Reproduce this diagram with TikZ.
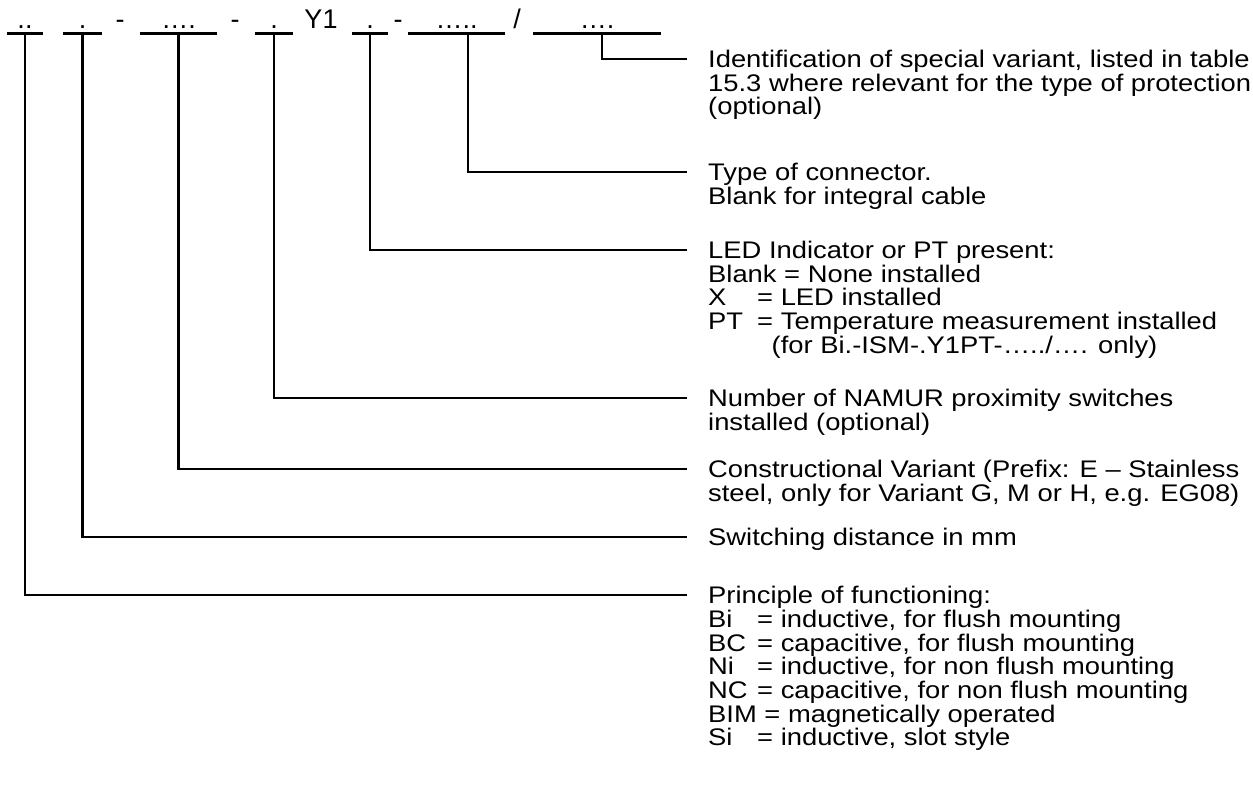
\documentclass[tikz,border=0pt]{standalone}
\usepackage{fontspec}
\setmainfont{Liberation Sans}
\newfontfamily\descfont{Liberation Sans}[FakeStretch=1.14]
\usetikzlibrary{positioning}
\setlength{\lineskiplimit}{-20pt}

\begin{document}
\begin{tikzpicture}[x=1pt, y=-1pt,
    field/.style={anchor=base, inner sep=0pt, font=\fontsize{27}{24}\selectfont},
    desc/.style={anchor=north west, inner sep=0pt, align=left, yshift=9pt,
      font=\descfont\fontsize{24}{23.7}\selectfont},
    codebar/.style={line width=2.6pt},
    leader/.style={line width=2.6pt}]
  \useasboundingbox (0,0) rectangle (1253,788);
  % the code fields along the top
  \node [field, minimum width=36pt] (f1) at (25,28.5) {..};
  \node [field, minimum width=39pt] (f2) at (82.5,28.5) {.};
  \node [field] (s1) at (120,28.5) {-};
  \node [field, minimum width=77pt] (f3) at (178.5,28.5) {….};
  \node [field] (s2) at (235,28.5) {-};
  \node [field, minimum width=38pt] (f4) at (274,28.5) {.};
  \node [field] (s3) at (321,28.5) {Y1};
  \node [field, minimum width=36pt] (f5) at (370,28.5) {.};
  \node [field] (s4) at (398,28.5) {-};
  \node [field, minimum width=97pt] (f6) at (456.5,28.5) {…..};
  \node [field] (s5) at (517,28.5) {/};
  \node [field, minimum width=128pt] (f7) at (597,28.5) {….};
  \foreach \f in {f1,f2,f3,f4,f5,f6,f7}
    \draw [codebar] ([yshift=-5pt]\f.base west) -- ([yshift=-5pt]\f.base east);

  % leader ends
  \coordinate (e7) at (687,59);
  \coordinate (e6) at (687,172);
  \coordinate (e5) at (687,250);
  \coordinate (e4) at (687,398);
  \coordinate (e3) at (687,469);
  \coordinate (e2) at (687,537);
  \coordinate (e1) at (687,595);

  \draw [leader] ([xshift=5pt,yshift=-5pt]f7.base) |- (e7);
  \draw [leader] ([xshift=11.5pt,yshift=-5pt]f6.base) |- (e6);
  \draw [leader] ([yshift=-5pt]f5.base) |- (e5);
  \draw [leader] ([yshift=-5pt]f4.base) |- (e4);
  \draw [leader] ([yshift=-5pt]f3.base) |- (e3);
  \draw [leader] ([yshift=-5pt]f2.base) |- (e2);
  \draw [leader] ([yshift=-5pt]f1.base) |- (e1);

  % descriptions
  \node [right=21pt of e7, desc] (d7) {Identification of special variant, listed in table\\
    15.3 where relevant for the type of protection\\(optional)};
  \node [right=21pt of e6, desc] (d6) {Type of connector.\\Blank for integral cable};
  \node [right=21pt of e5, desc] (d5) {LED Indicator or PT present:\\
    Blank = None installed\\
    \makebox[49pt][l]{X}= LED installed\\
    \makebox[49pt][l]{PT}= Temperature measurement installed\\
    \hspace*{63.5pt}(for Bi.-ISM-.Y1PT-…../…. only)};
  \node [right=21pt of e4, desc] (d4) {Number of NAMUR proximity switches\\installed (optional)};
  \node [right=21pt of e3, desc] (d3) {Constructional Variant (Prefix: E – Stainless\\
    steel, only for Variant G, M or H, e.g. EG08)};
  \node [right=21pt of e2, desc] (d2) {Switching distance in mm};
  \node [right=21pt of e1, desc] (d1) {Principle of functioning:\\
    \makebox[49pt][l]{Bi}= inductive, for flush mounting\\
    \makebox[49pt][l]{BC}= capacitive, for flush mounting\\
    \makebox[49pt][l]{Ni}= inductive, for non flush mounting\\
    \makebox[49pt][l]{NC}= capacitive, for non flush mounting\\
    BIM = magnetically operated\\
    \makebox[49pt][l]{Si}= inductive, slot style};
\end{tikzpicture}
\end{document}
